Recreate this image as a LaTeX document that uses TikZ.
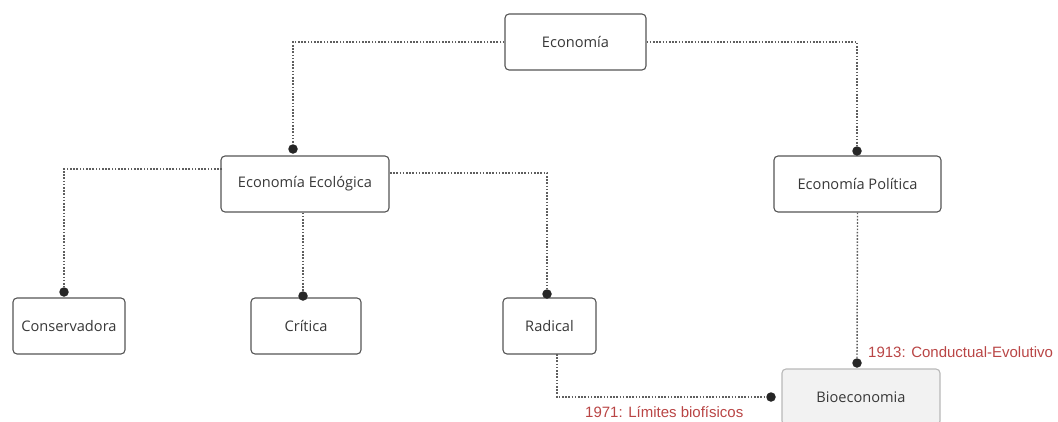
\documentclass[tikz,border=0pt]{standalone}
\usepackage{fontspec}
\setmainfont{Open Sans}
\newfontfamily\labelfont{Liberation Sans}
\definecolor{boxline}{HTML}{555555}
\definecolor{linkgray}{HTML}{5E5E5E}
\definecolor{notered}{HTML}{B94545}
\definecolor{softfill}{HTML}{F2F2F2}
\begin{document}
\begin{tikzpicture}[x=1pt,y=-1pt,
  box/.style={draw=boxline,line width=1.1pt,rounded corners=4pt,fill=white,
    inner sep=0pt,minimum height=56pt,font=\fontsize{14.6}{17}\selectfont,text=black!78},
  softbox/.style={box,draw=black!28,fill=softfill},
  link/.style={draw=linkgray,line width=1.4pt,dash pattern=on 1.6pt off 1.6pt},
  joint/.style={circle,fill=black!85,inner sep=0pt,minimum size=9.5pt},
  note/.style={text=notered,font=\labelfont\fontsize{15}{17}\selectfont,inner sep=0pt}]
\clip (0,0) rectangle (1058,421);
\useasboundingbox (0,0) rectangle (1058,421);

% boxes
\node[box,minimum width=141pt] (eco)    at (575.5,42)  {Economía};
\node[box,minimum width=168pt] (ecoeco) at (305,184)   {Economía Ecológica};
\node[box,minimum width=167pt] (ecopol) at (857.5,184) {Economía Política};
\node[box,minimum width=112pt] (cons)   at (69,326)    {Conservadora};
\node[box,minimum width=110pt] (crit)   at (306,326)   {Crítica};
\node[box,minimum width=93pt]  (rad)    at (549.5,326) {Radical};
\node[softbox,minimum width=158pt] (bio) at (861,397)  {Bioeconomia};

% link ends
\node[joint] (jee)   at (293,149) {};
\node[joint] (jpol)  at (857,151) {};
\node[joint] (jcons) at (64,292)  {};
\node[joint] (jcrit) at (303,296) {};
\node[joint] (jrad)  at (547,294) {};
\node[joint] (jbioT) at (857,363) {};
\node[joint] (jbioL) at (771,397) {};

% start points on box sides
\coordinate (eeW) at (222,169);
\coordinate (eeE) at (390,173);
\coordinate (radS) at (557,354);

% links
\draw[link] (eco.west) -| (jee);
\draw[link] (eco.east) -| (jpol);
\draw[link] (eeW) -| (jcons);
\draw[link] (ecoeco.south -| jcrit) -- (jcrit);
\draw[link] (eeE) -| (jrad);
\draw[link] (ecopol.south) -- (jbioT);
\draw[link] (radS) |- (jbioL);

% labels
\node[note,anchor=west] (n1913) at (868,352) {1913: Conductual-Evolutivo};
\node[note,anchor=west] (n1971) at (585,412) {1971: Límites biofísicos};
\end{tikzpicture}
\end{document}
